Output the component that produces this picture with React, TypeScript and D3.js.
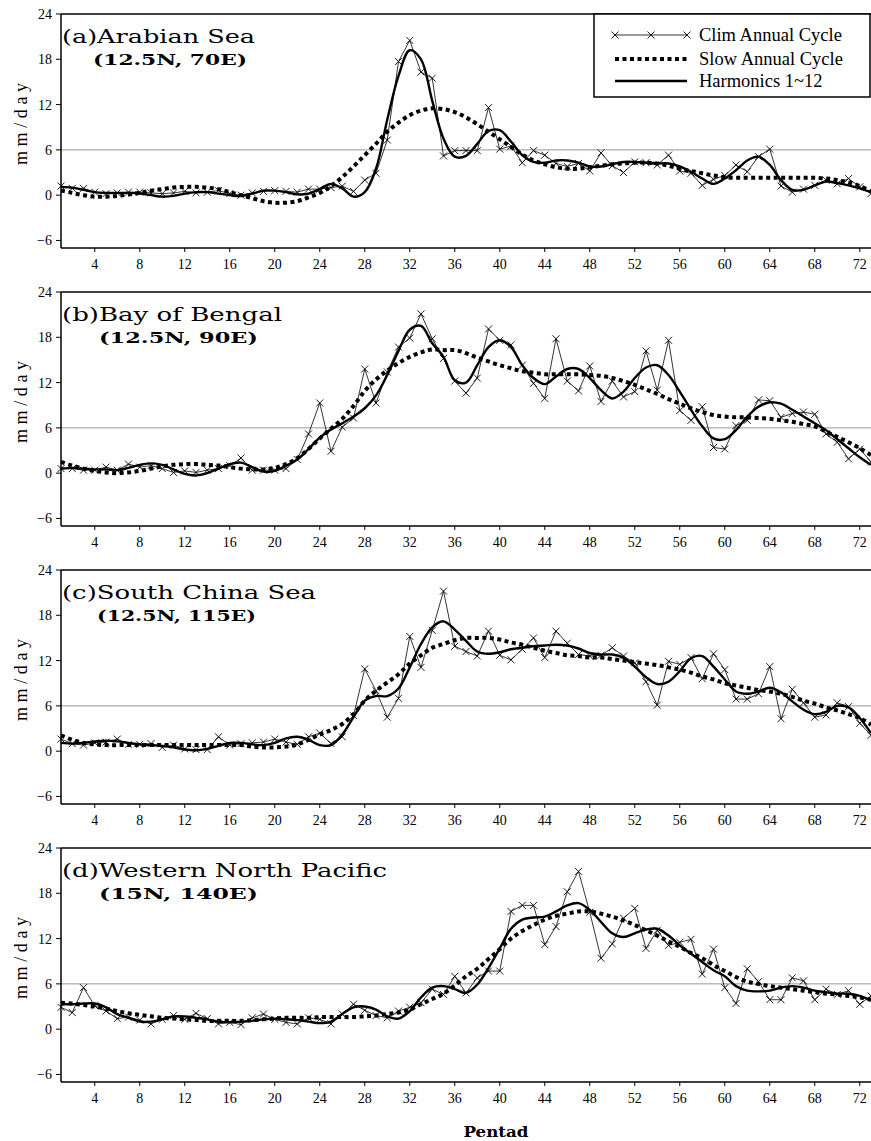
import React from 'react';
import * as d3 from 'd3';

const pentads = [1,2,3,4,5,6,7,8,9,10,11,12,13,14,15,16,17,18,19,20,21,22,23,24,25,26,27,28,29,30,31,32,33,34,35,36,37,38,39,40,41,42,43,44,45,46,47,48,49,50,51,52,53,54,55,56,57,58,59,60,61,62,63,64,65,66,67,68,69,70,71,72,73];
const xTickValues = [4,8,12,16,20,24,28,32,36,40,44,48,52,56,60,64,68,72];
const yTickValues = [-6,0,6,12,18,24];

const titles = ['(a)Arabian Sea', '(b)Bay of Bengal', '(c)South China Sea', '(d)Western North Pacific'];
const subtitles = ['(12.5N, 70E)', '(12.5N, 90E)', '(12.5N, 115E)', '(15N, 140E)'];
const legendLabels = ['Clim Annual Cycle', 'Slow Annual Cycle', 'Harmonics 1~12'];

// (a) Arabian Sea
const climA = [1.2,0.9,0.9,0.4,0.2,0.3,0.4,0.4,0.3,0.2, 0.3,0.5,0.3,0.4,0.6,0.2,0.0,0.3,0.5,0.6, 0.5,0.4,0.8,0.8,1.0,1.2,0.5,2.0,2.9,7.3, 17.7,20.5,16.3,15.5,5.2,5.9,5.9,5.9,11.6,6.1, 6.5,4.3,5.9,5.3,4.2,3.8,4.2,3.2,5.6,3.9, 3.0,4.4,4.3,4.0,5.3,3.2,2.9,1.3,2.1,2.6, 4.0,3.1,5.1,6.1,1.2,0.4,0.8,1.3,2.0,1.5, 2.2,1.1,0.2];
const harmA = [1.1,1.0,0.7,0.4,0.3,0.3,0.3,0.2,0.0,-0.2, -0.1,0.2,0.4,0.4,0.2,0.0,-0.1,0.2,0.6,0.6, 0.4,0.1,0.2,0.8,1.5,0.9,-0.2,0.4,3.5,10.0, 15.8,19.2,18.0,12.5,7.5,5.1,5.2,6.8,8.5,8.6, 7.1,5.3,4.4,4.3,4.6,4.6,4.3,3.8,3.8,4.1, 4.4,4.4,4.3,4.2,4.2,3.8,3.1,2.2,1.5,2.2, 3.3,4.6,5.1,4.0,2.0,0.7,0.7,1.3,1.8,1.6, 1.3,0.9,0.4];
const slowA = [0.6,0.3,0.0,-0.2,-0.2,-0.1,0.1,0.3,0.6,0.8, 1.0,1.1,1.1,1.0,0.8,0.4,0.0,-0.4,-0.8,-1.0, -1.0,-0.8,-0.3,0.3,1.2,2.4,3.8,5.3,6.8,8.4, 9.6,10.6,11.2,11.5,11.4,11.0,10.3,9.4,8.4,7.4, 6.4,5.4,4.6,4.1,3.7,3.5,3.5,3.7,3.9,4.1, 4.2,4.3,4.3,4.2,3.9,3.5,3.2,2.9,2.6,2.4, 2.3,2.3,2.3,2.3,2.3,2.3,2.3,2.3,2.2,2.0, 1.7,1.2,0.5];

// (b) Bay of Bengal
const climB = [0.6,0.6,0.4,0.4,0.8,0.4,1.2,0.8,1.0,0.6, 0.1,0.3,0.1,0.4,0.6,1.0,2.0,0.4,0.4,0.4, 0.6,1.8,5.2,9.3,2.9,6.1,7.3,13.8,9.3,13.4, 16.7,17.9,21.1,17.8,15.2,12.2,10.6,12.6,19.1,17.6, 17.0,14.3,11.9,9.9,17.8,12.2,10.9,14.2,9.5,12.2, 10.1,10.8,16.2,11.0,17.6,8.3,7.0,8.8,3.4,3.2, 6.3,7.0,9.7,9.6,7.4,7.9,8.1,7.8,5.2,4.1, 1.9,3.2,1.5];
const harmB = [0.6,0.7,0.6,0.5,0.5,0.4,0.7,1.1,1.3,1.1, 0.5,-0.1,-0.3,0.0,0.6,1.2,1.4,0.8,0.2,0.3, 1.0,1.8,3.2,4.7,5.8,6.6,7.5,8.6,10.3,13.0, 16.2,19.0,19.5,17.2,15.4,12.3,12.0,14.3,16.7,17.6, 16.7,14.3,12.6,11.8,12.8,13.8,13.8,12.6,11.0,9.9, 10.8,12.6,14.0,14.3,13.0,10.8,8.4,6.2,4.6,4.5, 5.7,7.5,8.8,9.4,9.2,8.4,7.5,6.6,5.7,4.5, 3.3,2.1,1.1];
const slowB = [1.5,1.0,0.6,0.3,0.1,0.0,0.1,0.3,0.6,0.9, 1.1,1.2,1.2,1.1,1.0,0.8,0.6,0.5,0.5,0.7, 1.2,2.0,3.2,4.6,5.9,7.2,8.9,10.9,12.4,13.6, 14.6,15.4,16.0,16.4,16.3,16.3,15.9,15.3,14.8,14.3, 13.9,13.5,13.3,13.1,13.1,13.1,13.1,13.0,12.9,12.6, 12.2,11.7,11.1,10.5,9.8,9.2,8.6,8.1,7.7,7.5, 7.4,7.4,7.3,7.2,7.0,6.8,6.5,6.2,5.5,4.8, 4.1,3.3,2.4];

// (c) South China Sea
const climC = [1.6,1.0,0.8,1.1,1.2,1.6,0.9,0.9,1.0,0.5, 0.8,0.3,0.2,0.2,1.9,0.8,1.0,1.1,1.2,1.6, 1.2,0.9,1.9,2.4,1.0,1.9,4.7,10.9,8.0,4.5, 7.0,15.2,11.1,16.0,21.2,13.9,13.2,12.6,15.9,12.7, 12.1,13.5,15.0,12.4,15.9,14.3,12.8,12.6,12.7,13.7, 12.6,11.7,9.2,6.1,11.9,11.5,12.4,9.6,12.9,10.8, 6.9,6.9,7.6,11.2,4.3,8.2,6.4,4.5,4.8,6.4, 5.9,3.7,2.1];
const harmC = [1.1,1.0,1.1,1.3,1.4,1.3,1.1,0.9,0.8,0.7, 0.5,0.2,0.1,0.3,0.7,1.1,1.1,0.9,0.8,1.1, 1.7,1.9,1.5,0.8,0.8,2.2,4.5,6.7,7.3,7.3, 8.3,11.1,14.2,16.4,17.2,16.1,14.6,13.2,12.9,13.1, 13.5,13.7,13.9,14.0,14.1,14.0,13.6,13.0,12.8,12.8, 12.4,11.2,9.8,8.9,9.2,10.6,12.3,12.6,11.2,9.5, 7.9,7.6,7.9,8.4,7.8,6.6,5.5,4.9,5.2,6.0, 5.8,4.4,2.4];
const slowC = [2.1,1.5,1.1,0.9,0.8,0.8,0.8,0.8,0.8,0.8, 0.8,0.8,0.8,0.8,0.8,0.8,0.8,0.6,0.5,0.5, 0.6,0.9,1.5,2.2,2.8,3.6,4.9,6.7,8.0,9.1, 10.2,11.6,12.7,13.7,14.2,14.7,15.0,15.0,15.0,14.8, 14.4,14.1,13.7,13.3,13.0,12.7,12.6,12.4,12.4,12.2, 12.0,11.8,11.6,11.4,11.1,10.8,10.4,9.9,9.5,9.0, 8.7,8.4,8.1,7.9,7.6,7.2,6.7,6.3,5.8,5.4, 4.9,4.4,3.5];

// (d) Western North Pacific
const climD = [2.9,2.2,5.5,3.1,2.4,1.4,1.6,1.2,0.7,1.3, 1.8,1.3,2.1,1.4,0.7,0.9,0.6,1.5,2.0,1.3, 0.9,0.7,1.5,1.3,0.7,2.0,3.3,2.5,1.8,1.5, 2.4,2.9,3.5,5.3,4.6,7.0,4.8,6.8,7.7,7.7, 15.6,16.4,16.4,11.2,13.6,18.2,20.9,15.5,9.4,11.3, 14.7,16.0,10.7,13.1,11.1,11.5,11.9,7.3,10.6,5.5, 3.4,8.0,6.3,3.9,3.9,6.8,6.4,3.9,5.3,4.6, 5.1,3.3,4.4];
const harmD = [3.3,3.3,3.4,3.4,2.9,2.0,1.5,1.0,1.0,1.3, 1.7,1.7,1.5,1.3,1.0,0.9,1.0,1.1,1.3,1.4, 1.3,1.2,1.0,0.8,1.0,2.0,2.9,3.0,2.6,1.7, 1.4,2.4,4.2,5.5,5.7,5.3,4.8,5.9,8.1,10.7, 13.3,14.5,14.8,14.9,15.6,16.4,16.7,15.8,14.2,12.7, 12.2,12.7,13.2,13.3,12.4,11.1,10.0,8.9,7.8,7.0, 5.7,5.1,5.0,5.1,5.5,5.7,5.5,5.1,4.9,4.7, 4.7,4.4,3.8];
const slowD = [3.5,3.4,3.2,3.0,2.7,2.4,2.1,1.9,1.7,1.5, 1.4,1.3,1.2,1.1,1.1,1.1,1.1,1.2,1.3,1.4, 1.5,1.5,1.5,1.6,1.6,1.6,1.6,1.7,1.8,2.0, 2.2,2.6,3.3,4.0,4.7,5.8,7.0,8.0,9.3,10.6, 12.0,13.0,13.8,14.5,15.0,15.3,15.6,15.6,15.3,14.9, 14.4,13.8,13.1,12.4,11.6,10.9,10.1,9.4,8.5,7.7, 6.9,6.3,6.0,5.7,5.5,5.3,5.1,4.9,4.7,4.6, 4.4,4.2,3.9];

const climSeries = [climA, climB, climC, climD];
const harmSeries = [harmA, harmB, harmC, harmD];
const slowSeries = [slowA, slowB, slowC, slowD];

const W = 871;
const H = 1141;
const LEFT = 61;
const RIGHT = 871;
const PANEL_TOP0 = 14;
const PANEL_STEP = 278;
const PANEL_H = 234;

const titleLens = [193, 220, 254, 325];
const subX = [93, 99, 97, 99];
const subLens = [154, 159, 159, 159];

const serif = '"Liberation Serif", "Times New Roman", serif';
const slab = '"DejaVu Serif", serif';
const DOT_DASH = '4 3.5';
const xMark = 'M-3.5,-3.5L3.5,3.5M-3.5,3.5L3.5,-3.5';

function Panel({ i }: { i: number }) {
  const top = PANEL_TOP0 + i * PANEL_STEP;
  const bottom = top + PANEL_H;
  const x = d3.scaleLinear().domain([1, 73]).range([LEFT, RIGHT]);
  const y = d3.scaleLinear().domain([-7, 24]).range([bottom, top]);
  const smooth = d3
    .line<number>()
    .x((_, k) => x(pentads[k]))
    .y((d) => y(d))
    .curve(d3.curveCatmullRom.alpha(0.5));
  const straight = d3
    .line<number>()
    .x((_, k) => x(pentads[k]))
    .y((d) => y(d));
  const clim = climSeries[i];
  return (
    <g>
      <line x1={LEFT} x2={RIGHT} y1={y(6)} y2={y(6)} stroke="#8a8a8a" strokeWidth={0.9} />
      <line x1={LEFT} x2={RIGHT} y1={top} y2={top} stroke="#000" strokeWidth={1.5} />
      <line x1={LEFT} x2={RIGHT} y1={bottom} y2={bottom} stroke="#000" strokeWidth={1.5} />
      <line x1={LEFT} x2={LEFT} y1={top} y2={bottom} stroke="#000" strokeWidth={1.5} />
      {yTickValues.map((v) => (
        <g key={'y' + v}>
          <line x1={LEFT - 5} x2={LEFT} y1={y(v)} y2={y(v)} stroke="#000" strokeWidth={1} />
          <text x={52} y={y(v) + 5} textAnchor="end" fontFamily={serif} fontSize={14}>
            {v < 0 ? '\u2212' + Math.abs(v) : String(v)}
          </text>
        </g>
      ))}
      {xTickValues.map((v) => (
        <g key={'x' + v}>
          <line x1={x(v)} x2={x(v)} y1={bottom} y2={bottom + 4} stroke="#000" strokeWidth={1} />
          <text x={x(v)} y={bottom + 21} textAnchor="middle" fontFamily={serif} fontSize={14}>
            {v}
          </text>
        </g>
      ))}
      <text
        transform={`translate(27, ${top + 110}) rotate(-90)`}
        textAnchor="middle"
        fontFamily={serif}
        fontSize={18}
        textLength={82}
        lengthAdjust="spacing"
      >
        mm/day
      </text>
      <path d={straight(clim) || ''} fill="none" stroke="#000" strokeWidth={0.8} />
      {clim.map((v, k) => (
        <path key={'m' + k} d={xMark} transform={`translate(${x(pentads[k])},${y(v)})`} stroke="#000" strokeWidth={0.9} fill="none" />
      ))}
      <path d={smooth(slowSeries[i]) || ''} fill="none" stroke="#000" strokeWidth={4} strokeDasharray={DOT_DASH} />
      <path d={smooth(harmSeries[i]) || ''} fill="none" stroke="#000" strokeWidth={2.4} />
      <text x={62} y={top + 29} fontFamily={slab} fontSize={18} textLength={titleLens[i]} lengthAdjust="spacingAndGlyphs">
        {titles[i]}
      </text>
      <text x={subX[i]} y={top + 51} fontFamily={slab} fontWeight="bold" fontSize={15} textLength={subLens[i]} lengthAdjust="spacingAndGlyphs">
        {subtitles[i]}
      </text>
    </g>
  );
}

function Legend() {
  const rows = [35, 59, 81];
  const x0 = 615;
  const x1 = 687;
  return (
    <g>
      <rect x={594} y={14} width={276} height={83} fill="#fff" stroke="#000" strokeWidth={1.5} />
      <line x1={x0} x2={x1} y1={rows[0]} y2={rows[0]} stroke="#000" strokeWidth={0.8} />
      {[x0, (x0 + x1) / 2, x1].map((px, k) => (
        <path key={k} d={xMark} transform={`translate(${px},${rows[0]})`} stroke="#000" strokeWidth={0.9} fill="none" />
      ))}
      <line x1={x0} x2={x1} y1={rows[1]} y2={rows[1]} stroke="#000" strokeWidth={4} strokeDasharray={DOT_DASH} />
      <line x1={x0} x2={x1} y1={rows[2]} y2={rows[2]} stroke="#000" strokeWidth={2.4} />
      {legendLabels.map((l, k) => (
        <text key={l} x={699} y={rows[k] + 6} fontFamily={serif} fontSize={18.5}>
          {l}
        </text>
      ))}
    </g>
  );
}

export default function App() {
  return (
    <svg width={W} height={H} style={{ position: 'absolute', left: 0, top: 0, background: '#fff' }}>
      <rect x={0} y={0} width={W} height={H} fill="#fff" />
      {[0, 1, 2, 3].map((i) => (
        <Panel key={i} i={i} />
      ))}
      <Legend />
      <text x={496} y={1137} textAnchor="middle" fontFamily={slab} fontWeight="bold" fontSize={15} textLength={65} lengthAdjust="spacingAndGlyphs">
        Pentad
      </text>
    </svg>
  );
}
